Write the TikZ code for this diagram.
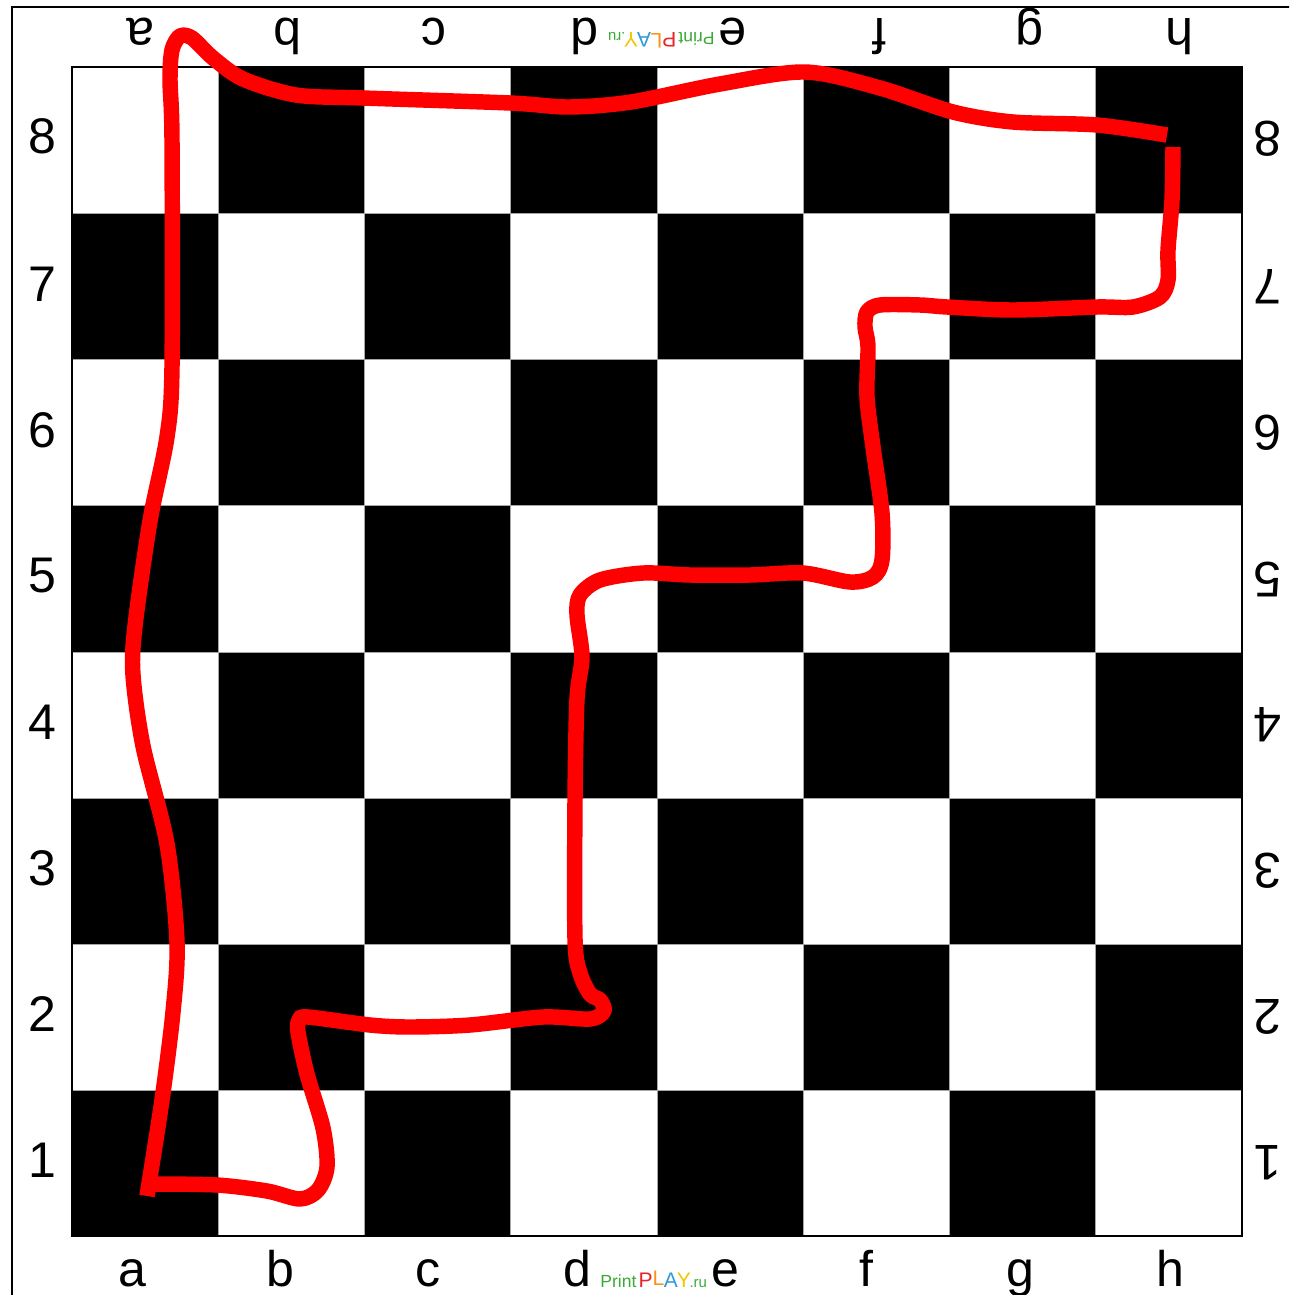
\documentclass[tikz,border=0pt]{standalone}
\usepackage{fontspec}
\setmainfont{Liberation Sans}
\definecolor{ppgreen}{HTML}{3AA935}
\definecolor{ppred}{HTML}{E8262A}
\definecolor{pporange}{HTML}{F7941D}
\definecolor{ppblue}{HTML}{2E9AD8}
\definecolor{ppyellow}{HTML}{F5C400}
\newcommand{\ppmark}{\textcolor{ppgreen}{Print}\kern1.2pt{\fontsize{12}{14}\selectfont\textcolor{ppred}{P}\raisebox{1pt}{\textcolor{pporange}{L}}\kern-0.3pt\textcolor{ppblue}{A}\kern-0.6pt\textcolor{ppyellow}{Y}}\kern-0.8pt{\fontsize{8.5}{10}\selectfont\textcolor{ppgreen}{.ru}}}
\begin{document}
\begin{tikzpicture}[x=0.02cm,y=-0.02cm,
  coordlabel/.style={font=\fontsize{28.5}{30}\selectfont, inner sep=0pt},
  gridline/.style={draw=gray!70, line width=0.5pt},
  redpath/.style={draw=red, line width=8.8pt, line cap=butt, line join=round},
  brand/.style={inner sep=0pt, font=\fontsize{10}{12}\selectfont}]
\useasboundingbox (0,0) rectangle (1289,1295);
\clip (0,0) rectangle (1289,1295);
% outer frame
\draw[line width=1.7pt] (12,1320) -- (12,7) -- (1320,7);
% dark squares
\foreach \i in {0,...,7}{
  \foreach \j in {0,...,7}{
    \pgfmathtruncatemacro\odd{mod(\i+\j,2)}
    \ifnum\odd=1
      \fill[black] (72+\i*146.25,67+\j*146.25) rectangle ++(146.25,146.25);
    \fi
  }
}
% grid lines
\foreach \k in {1,...,7}{
  \draw[gridline] (72+\k*146.25,67) -- (72+\k*146.25,1236);
  \draw[gridline] (72,67+\k*146.25) -- (1242,67+\k*146.25);
}
\draw[line width=1.2pt] (72,67) rectangle (1242,1236);
% rank labels
\foreach \r/\y in {8/136,7/284,6/430,5/576,4/722,3/868,2/1014,1/1160}{
  \node[coordlabel] (L\r) at (42,\y) {\r};
  \node[coordlabel, rotate=180] (R\r) at (1268,\y+3) {\r};
}
% file labels bottom
\foreach \f/\x in {a/132,b/280,c/428,d/577,e/725,f/866,g/1020,h/1170}{
  \node[coordlabel, anchor=base] (B\f) at (\x,1286) {\f};
}
% file labels top (upside down)
\foreach \f/\x in {a/141,b/288,c/434,d/585,e/733,f/880,g/1030,h/1180}{
  \node[coordlabel, anchor=base, rotate=180] (T\f) at (\x,18) {\f};
}
% PrintPLAY.ru marks
\node[brand, anchor=base west] (ppB) at (600,1287) {\ppmark};
\node[brand, anchor=base west, rotate=180] (ppT) at (715,32) {\ppmark};
% red route, first stroke: h8 -> a8 -> a1
\draw[redpath] plot[smooth, tension=0.5] coordinates {
  (1167,135) (1097,125) (1013,122) (953,112) (880,88) (805,72) (720,84)
  (631,102) (569,107) (510,103) (363,98) (296,95) (243,79) (213,58)
  (192,38) (180,36) (172,50) (170,80) (172,140) (172,367) (167,437)
  (150,521) (135,626) (133,675) (143,746) (167,844) (177,942) (173,1012)
  (162,1100) (147,1196)};
% red route, second stroke: a1 -> b1 -> b2 -> d2 -> d5 -> f5 -> f7 -> h7 -> h8
\draw[redpath] plot[smooth, tension=0.5] coordinates {
  (153,1184) (217,1185) (267,1191) (300,1199) (318,1190) (327,1167)
  (323,1128) (307,1074) (298,1032) (299,1020) (308,1017) (370,1025)
  (410,1027) (470,1025) (543,1017) (590,1019) (604,1011) (600,1000)
  (590,994) (580,973) (575,939) (575,800) (577,699) (582,657) (577,615)
  (580,595) (600,580) (643,573) (690,575) (750,575) (803,573) (850,582)
  (873,577) (882,560) (882,513) (873,447) (867,397) (868,347) (865,327)
  (867,312) (880,305) (920,305) (947,307) (1013,310) (1097,307)
  (1133,307) (1160,297) (1168,280) (1168,250) (1172,200) (1173,147)};
\end{tikzpicture}
\end{document}
